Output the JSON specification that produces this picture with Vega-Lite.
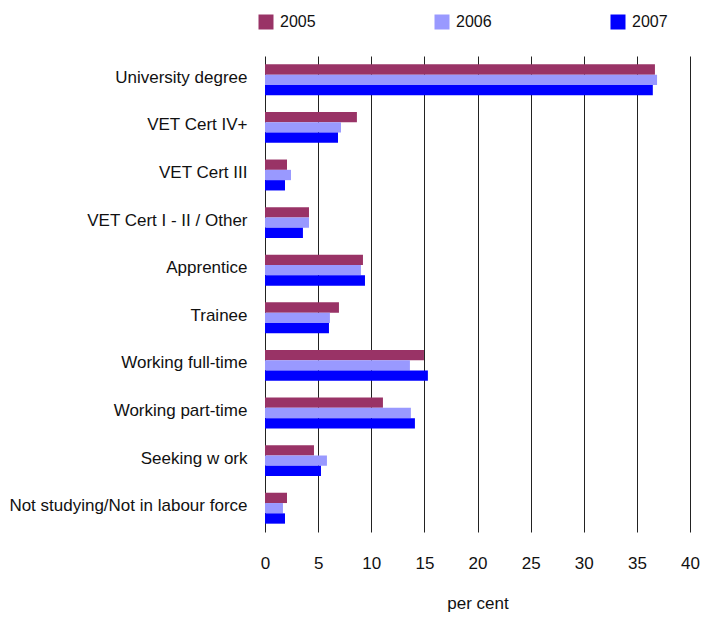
{
  "$schema": "https://vega.github.io/schema/vega-lite/v6.json",
  "autosize": "none",
  "width": 425,
  "height": 476,
  "padding": {"left": 265, "top": 56, "right": 24, "bottom": 87},
  "background": "white",
  "config": {
    "view": {"stroke": null},
    "font": "Liberation Sans"
  },
  "data": {
    "values": [
      {"category": "University degree", "year": "2005", "value": 36.7},
      {"category": "University degree", "year": "2006", "value": 36.9},
      {"category": "University degree", "year": "2007", "value": 36.5},
      {"category": "VET Cert IV+", "year": "2005", "value": 8.65},
      {"category": "VET Cert IV+", "year": "2006", "value": 7.15},
      {"category": "VET Cert IV+", "year": "2007", "value": 6.87},
      {"category": "VET Cert III", "year": "2005", "value": 2.07},
      {"category": "VET Cert III", "year": "2006", "value": 2.45},
      {"category": "VET Cert III", "year": "2007", "value": 1.88},
      {"category": "VET Cert I - II / Other", "year": "2005", "value": 4.14},
      {"category": "VET Cert I - II / Other", "year": "2006", "value": 4.14},
      {"category": "VET Cert I - II / Other", "year": "2007", "value": 3.57},
      {"category": "Apprentice", "year": "2005", "value": 9.22},
      {"category": "Apprentice", "year": "2006", "value": 9.03},
      {"category": "Apprentice", "year": "2007", "value": 9.41},
      {"category": "Trainee", "year": "2005", "value": 6.96},
      {"category": "Trainee", "year": "2006", "value": 6.11},
      {"category": "Trainee", "year": "2007", "value": 6.02},
      {"category": "Working full-time", "year": "2005", "value": 14.96},
      {"category": "Working full-time", "year": "2006", "value": 13.64},
      {"category": "Working full-time", "year": "2007", "value": 15.33},
      {"category": "Working part-time", "year": "2005", "value": 11.1},
      {"category": "Working part-time", "year": "2006", "value": 13.73},
      {"category": "Working part-time", "year": "2007", "value": 14.11},
      {"category": "Seeking w ork", "year": "2005", "value": 4.61},
      {"category": "Seeking w ork", "year": "2006", "value": 5.83},
      {"category": "Seeking w ork", "year": "2007", "value": 5.27},
      {"category": "Not studying/Not in labour force", "year": "2005", "value": 2.07},
      {"category": "Not studying/Not in labour force", "year": "2006", "value": 1.69},
      {"category": "Not studying/Not in labour force", "year": "2007", "value": 1.88}
    ]
  },
  "mark": {"type": "bar"},
  "encoding": {
    "y": {
      "field": "category",
      "type": "nominal",
      "sort": null,
      "scale": {"paddingInner": 0.35, "paddingOuter": 0.175},
      "axis": {
        "title": null,
        "ticks": false,
        "domain": false,
        "labelFontSize": 17,
        "labelColor": "#111",
        "labelPadding": 18,
        "labelOffset": -2,
        "labelLimit": 300
      }
    },
    "yOffset": {"field": "year", "type": "nominal", "sort": ["2005", "2006", "2007"]},
    "x": {
      "field": "value",
      "type": "quantitative",
      "scale": {"domain": [0, 40], "nice": false},
      "axis": {
        "values": [0, 5, 10, 15, 20, 25, 30, 35, 40],
        "title": "per cent",
        "titleFontSize": 17,
        "titleFontWeight": "normal",
        "titleColor": "#111",
        "titlePadding": 24,
        "labelFontSize": 17,
        "labelColor": "#111",
        "labelPadding": 23,
        "labelFlush": false,
        "ticks": false,
        "domain": false,
        "grid": true,
        "gridColor": "#222",
        "gridWidth": 1,
        "gridOpacity": 1
      }
    },
    "color": {
      "field": "year",
      "type": "nominal",
      "scale": {"domain": ["2005", "2006", "2007"], "range": ["#993366", "#9999FF", "#0000FF"]},
      "legend": {
        "title": null,
        "orient": "none",
        "legendX": -7,
        "legendY": -42,
        "direction": "horizontal",
        "columns": 3,
        "symbolType": "square",
        "symbolSize": 225,
        "symbolStrokeWidth": 0,
        "labelFontSize": 16,
        "labelColor": "#111",
        "labelOffset": 6,
        "columnPadding": 118
      }
    }
  }
}
